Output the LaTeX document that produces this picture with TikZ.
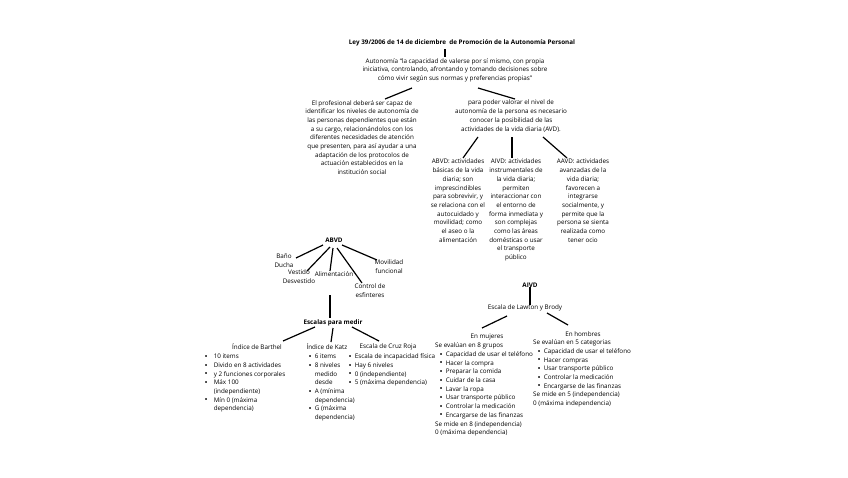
\documentclass[tikz,border=0pt]{standalone}
\usepackage{fontspec}
\usepackage{graphicx}
\setmainfont{Open Sans}
\begin{document}
\begin{tikzpicture}[x=1pt,y=-1pt,
  every node/.style={inner sep=0pt, font=\fontsize{6.3}{8.7}\selectfont},
  txt/.style={align=center},
  hd/.style={font=\fontsize{6.3}{8.7}\selectfont\bfseries},
  lst/.style={anchor=north west, align=left},
  ln/.style={draw=black, line width=1.2pt}]
\fill[white] (0,0) rectangle (848,477);
\useasboundingbox (0,0) rectangle (848,477);
\newcommand{\bl}{\raisebox{-0.6pt}{\scalebox{1.3}{\textbullet}}}
% title and definition
\node[hd] (title) at (462,43) {Ley 39/2006 de 14 de diciembre\ \ de Promoción de la Autonomía Personal};
\node[txt,anchor=north] (auto) at (455,58) {Autonomía “la capacidad de valerse por sí mismo, con propia\\iniciativa, controlando, afrontando y tomando decisiones sobre\\cómo vivir según sus normas y preferencias propias”};
\node[txt,anchor=north] (prof) at (362,100) {El profesional deberá ser capaz de\\identificar los niveles de autonomía de\\las personas dependientes que están\\a su cargo, relacionándolos con los\\diferentes necesidades de atención\\que presenten, para así ayudar a una\\adaptación de los protocolos de\\actuación establecidos en la\\institución social};
\node[txt,anchor=north] (valor) at (511,100) {para poder valorar el nivel de\\autonomía de la persona es necesario\\conocer la posibilidad de las\\actividades de la vida diaria (AVD).};
\node[txt,anchor=north] (abvdt) at (458,159) {ABVD: actividades\\básicas de la vida\\diaria; son\\imprescindibles\\para sobrevivir, y\\se relaciona con el\\autocuidado y\\movilidad; como\\el aseo o la\\alimentación};
\node[txt,anchor=north] (aivdt) at (516,159) {AIVD: actividades\\instrumentales de\\la vida diaria;\\permiten\\interaccionar con\\el entorno de\\forma inmediata y\\son complejas\\como las áreas\\domésticas o usar\\el transporte\\público};
\node[txt,anchor=north] (aavdt) at (583,159) {AAVD: actividades\\avanzadas de la\\vida diaria;\\favorecen a\\integrarse\\socialmente, y\\permite que la\\persona se sienta\\realizada como\\tener ocio};
\draw[ln] ([shift={(-17,6)}]title.center) -- ([shift={(-10,-1)}]auto.north);
\draw[ln] ([shift={(-43,30)}]auto.north) -- ([shift={(23,-1)}]prof.north);
\draw[ln] ([shift={(23,30)}]auto.north) -- ([shift={(4,-1)}]valor.north);
\draw[ln] ([shift={(-33,37)}]valor.north) -- ([shift={(5,-1)}]abvdt.north);
\draw[ln] ([shift={(1,37)}]valor.north) -- ([shift={(-4,-1)}]aivdt.north);
\draw[ln] ([shift={(32,37)}]valor.north) -- ([shift={(-16,-1)}]aavdt.north);
% ABVD tree
\node[hd] (abvd) at (334,240) {ABVD};
\node[txt,anchor=north] (bano) at (284,253.5) {Baño\\Ducha};
\node[txt,anchor=north] (vest) at (299,269.5) {Vestido\\Desvestido};
\node (alim) at (334,274) {Alimentación};
\node[txt,anchor=north] (ctrl) at (370,283.5) {Control de\\esfinteres};
\node[txt,anchor=north] (mov) at (389,259.5) {Movilidad\\funcional};
\draw[ln] ([shift={(-11,5)}]abvd.center) -- ([shift={(12,4.5)}]bano.north);
\draw[ln] ([shift={(-4,7)}]abvd.center) -- ([shift={(8,1.5)}]vest.north);
\draw[ln] ([shift={(-1,8)}]abvd.center) -- ([shift={(-4,-3)}]alim.center);
\draw[ln] ([shift={(3,8)}]abvd.center) -- ([shift={(-8,-0.5)}]ctrl.north);
\draw[ln] ([shift={(8,5)}]abvd.center) -- ([shift={(-12,0.5)}]mov.north);
\node[hd] (esc) at (333,323) {Escalas para medir};
\coordinate (vtop) at (330,295);
\draw[ln] (vtop) -- ([shift={(-3,-5)}]esc.center);
\node (barth) at (257,347) {Índice de Barthel};
\node (katz) at (327,347) {Índice de Katz};
\node (cruz) at (388,347) {Escala de Cruz Roja};
\draw[ln] ([shift={(-18,4)}]esc.center) -- ([shift={(26,-6)}]barth.center);
\draw[ln] ([shift={(0,5)}]esc.center) -- ([shift={(4,-5)}]katz.center);
\draw[ln] ([shift={(19,4)}]esc.center) -- ([shift={(-9,-6)}]cruz.center);
\node[lst] (barthl) at (204.5,352.5) {\begin{tabular}{@{}l@{\hspace{6pt}}l@{}}
\bl & 10 items\\ \bl & Divido en 8 actividades\\ \bl & y 2 funciones corporales\\ \bl & Máx 100\\ & (independiente)\\ \bl & Mín 0 (máxima\\ & dependencia)\end{tabular}};
\node[lst] (katzl) at (308.5,352.5) {\begin{tabular}{@{}l@{\hspace{3pt}}l@{}}
\bl & 6 items\\ \bl & 8 niveles\\ & medido\\ & desde\\ \bl & A (mínima\\ & dependencia)\\ \bl & G (máxima\\ & dependencia)\end{tabular}};
\node[lst] (cruzl) at (348.5,352.5) {\begin{tabular}{@{}l@{\hspace{3pt}}l@{}}
\bl & Escala de incapacidad física\\ \bl & Hay 6 niveles\\ \bl & 0 (independiente)\\ \bl & 5 (máxima dependencia)\end{tabular}};
% AIVD tree
\node[hd] (aivd) at (530,285) {AIVD};
\node (law) at (525,308) {Escala de Lawton y Brody};
\draw[ln] (aivd.south) -- (aivd.south |- law.north);
\node (muj) at (487,337) {En mujeres};
\node (hom) at (583,334) {En hombres};
\draw[ln] ([shift={(-18,8)}]law.center) -- ([shift={(-5,-9)}]muj.center);
\draw[ln] ([shift={(22,5)}]law.center) -- ([shift={(-15,-9)}]hom.center);
\node[lst] (mujl) at (435,341.5) {\begin{tabular}{@{\hspace{4.5pt}}l@{\hspace{3pt}}l@{}}
\multicolumn{2}{@{}l@{}}{Se evalúan en 8 grupos}\\
\bl & Capacidad de usar el teléfono\\ \bl & Hacer la compra\\ \bl & Preparar la comida\\ \bl & Cuidar de la casa\\ \bl & Lavar la ropa\\ \bl & Usar transporte público\\ \bl & Controlar la medicación\\ \bl & Encargarse de las finanzas\\
\multicolumn{2}{@{}l@{}}{Se mide en 8 (independencia)}\\
\multicolumn{2}{@{}l@{}}{0 (máxima dependencia)}\end{tabular}};
\node[lst] (homl) at (533,338.5) {\begin{tabular}{@{\hspace{4.5pt}}l@{\hspace{3pt}}l@{}}
\multicolumn{2}{@{}l@{}}{Se evalúan en 5 categorias}\\
\bl & Capacidad de usar el teléfono\\ \bl & Hacer compras\\ \bl & Usar transporte público\\ \bl & Controlar la medicación\\ \bl & Encargarse de las finanzas\\
\multicolumn{2}{@{}l@{}}{Se mide en 5 (independencia)}\\
\multicolumn{2}{@{}l@{}}{0 (máxima independencia)}\end{tabular}};
\end{tikzpicture}
\end{document}
